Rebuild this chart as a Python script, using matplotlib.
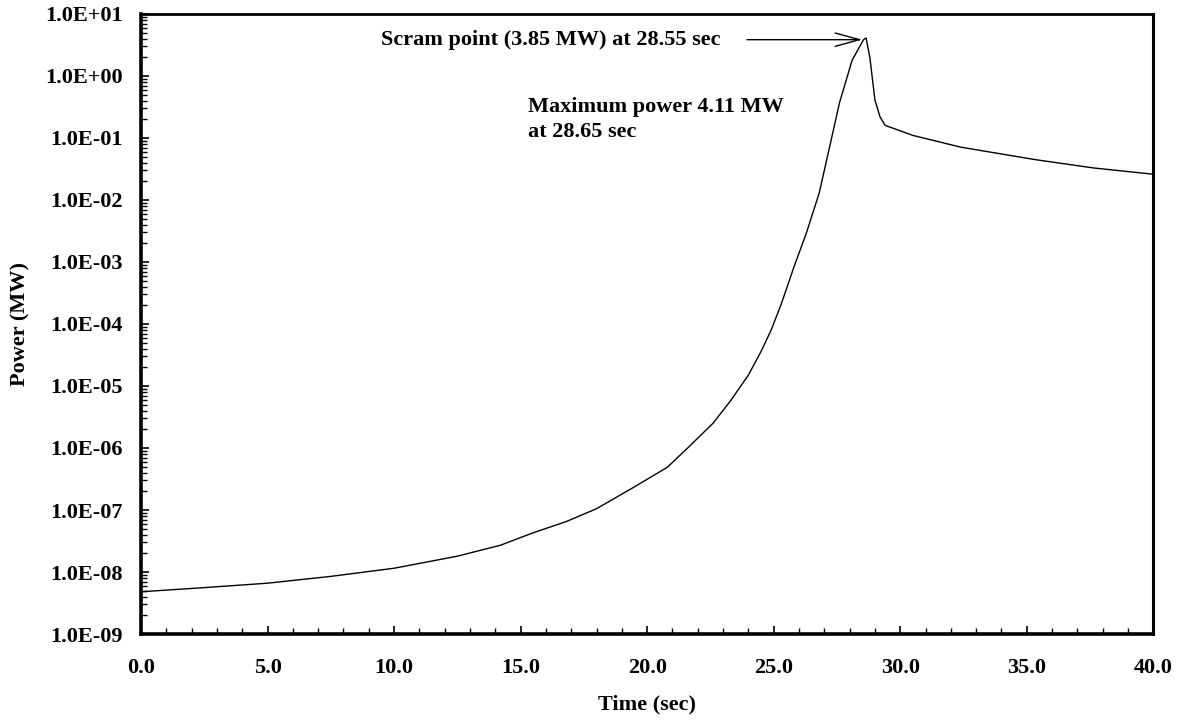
import matplotlib
matplotlib.use("Agg")
import matplotlib.pyplot as plt
from matplotlib.ticker import FuncFormatter, MultipleLocator, LogLocator, NullFormatter

# values (time in sec, power in MW)
time_s = [0.0, 2.5, 5.0, 7.5, 10.0, 12.5, 14.2, 15.5, 16.8, 18.0, 19.45, 20.8,
          21.6, 22.6, 23.3, 24.0, 24.5, 24.9, 25.3, 25.8, 26.3, 26.8, 27.2,
          27.6, 28.1, 28.55, 28.65, 28.8, 29.0, 29.2, 29.4, 30.5, 32.4, 35.3,
          37.6, 40.0]
power_mw = [4.8e-9, 5.6e-9, 6.6e-9, 8.5e-9, 1.15e-8, 1.8e-8, 2.7e-8, 4.3e-8,
            6.5e-8, 1.05e-7, 2.3e-7, 4.9e-7, 1.0e-6, 2.5e-6, 5.8e-6, 1.5e-5,
            3.6e-5, 8.0e-5, 2.1e-4, 8.3e-4, 3.0e-3, 1.3e-2, 0.069, 0.37, 1.8,
            3.85, 4.11, 2.0, 0.41, 0.22, 0.16, 0.11, 0.071, 0.045, 0.033, 0.026]

scram_t, scram_p = 28.55, 3.85
scram_text = "Scram point (3.85 MW) at 28.55 sec"
max_text = "Maximum power 4.11 MW\nat 28.65 sec"

plt.rcParams['font.family'] = ['Liberation Serif', 'DejaVu Serif']
plt.rcParams['font.weight'] = 'bold'

fig = plt.figure(figsize=(11.79, 7.24), dpi=100)
ax = fig.add_axes([0.1196, 0.1243, 0.8586, 0.8564])

ax.plot(time_s, power_mw, color='black', lw=1.0)
ax.set_yscale('log')
ax.set_xlim(0, 40)
ax.set_ylim(1e-9, 1e1)

ax.xaxis.set_major_locator(MultipleLocator(5))
ax.xaxis.set_minor_locator(MultipleLocator(1))
ax.xaxis.set_major_formatter(FuncFormatter(lambda v, p: f"{v:.1f}"))
ax.yaxis.set_major_locator(LogLocator(base=10, numticks=20))
ax.yaxis.set_minor_locator(LogLocator(base=10, subs=range(2, 10), numticks=20))
ax.yaxis.set_minor_formatter(NullFormatter())
ax.yaxis.set_major_formatter(FuncFormatter(lambda v, p: f"{v:.1E}"))

ax.tick_params(which='both', direction='in', labelsize=16, top=False, right=False)
ax.tick_params(axis='x', which='major', length=6, width=1.2, pad=17)
ax.tick_params(axis='x', which='minor', length=4, width=1.0)
ax.tick_params(axis='y', which='major', length=6, width=1.2, pad=13)
ax.tick_params(axis='y', which='minor', length=4, width=1.0)

for side, w in [('left', 2.6), ('bottom', 2.6), ('top', 2.0), ('right', 2.2)]:
    ax.spines[side].set_linewidth(w)

ax.set_xlabel("Time (sec)", fontsize=16, fontweight='bold', labelpad=12)
ax.set_ylabel("Power (MW)", fontsize=16, fontweight='bold', labelpad=11)

ax.annotate(scram_text, xy=(scram_t - 0.05, scram_p), xytext=(22.9, scram_p),
            fontsize=16, fontweight='bold', ha='right', va='center',
            arrowprops=dict(arrowstyle='->,head_length=1.1,head_width=0.3',
                            color='black', lw=1.0, shrinkA=17, shrinkB=0))
ax.text(15.3, 0.2, max_text, fontsize=16, fontweight='bold',
        ha='left', va='center', linespacing=1.3)

fig.savefig("out.png", dpi=100)
